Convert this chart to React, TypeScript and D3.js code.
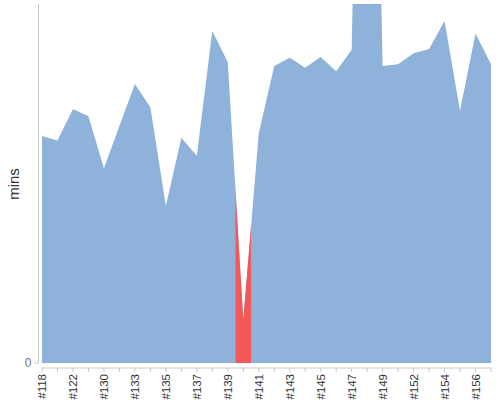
import * as d3 from "d3";

// build labels (odd ones are not labelled on the chart, guessed)
const builds = [
    "#118", "#120", "#122", "#126", "#130", "#131", "#133", "#134", "#135", "#136",
    "#137", "#138", "#139", "#140", "#141", "#142", "#143", "#144", "#145", "#146",
    "#147", "#148", "#149", "#150", "#152", "#153", "#154", "#155", "#156", "#157",
];

// duration in minutes
const durations = [
    25.3, 24.8, 28.3, 27.5, 21.7, 26.4, 31.1, 28.5, 17.5, 25.1,
    23.1, 37.0, 33.5, 4.8, 25.6, 33.1, 34.0, 32.9, 34.1, 32.5,
    34.9, 120, 33.1, 33.3, 34.5, 35.0, 38.1, 28.1, 36.7, 33.3,
];

// failed builds drawn in red
const failedBuilds = ["#140"];

const yTicks = [0];

const width = 500;
const height = 400;
const margin = {top: 4, right: 9, bottom: 37, left: 42};

const App = () => {
    const innerBottom = height - margin.bottom;
    const axisX = 38.5;

    const xScale = d3
        .scalePoint<string>()
        .domain(builds)
        .range([margin.left, width - margin.right]);

    const step = xScale.step();

    const yScale = d3
        .scaleLinear()
        .domain([0, 40])
        .range([innerBottom, margin.top]);

    const area = d3
        .area<number>()
        .x((_, i) => xScale(builds[i]) as number)
        .y0(yScale(0))
        .y1(d => yScale(d))
        .curve(d3.curveLinear);

    const path = area(durations) ?? "";

    return (
        <svg width={width} height={height}
             style={{position: "absolute", left: 0, top: 0, fontFamily: "'Liberation Sans', Arial, sans-serif"}}>
            <defs>
                <clipPath id="plot">
                    <rect x={axisX} y={margin.top} width={width - axisX} height={innerBottom - margin.top}/>
                </clipPath>
                {failedBuilds.map((b, i) => (
                    <clipPath id={`fail-${i}`} key={b}>
                        <rect x={(xScale(b) as number) - step / 2} y={margin.top}
                              width={step} height={innerBottom - margin.top}/>
                    </clipPath>
                ))}
            </defs>

            <g clipPath="url(#plot)">
                <path d={path} fill="#8FB2DA"/>
                {failedBuilds.map((b, i) => (
                    <path key={b} d={path} fill="#F45757" clipPath={`url(#fail-${i})`}/>
                ))}
            </g>

            {/* y axis */}
            <line x1={axisX} x2={axisX} y1={margin.top} y2={innerBottom} stroke="#C8C8C8"/>
            {yTicks.map(t => (
                <g key={t}>
                    <line x1={axisX - 4} x2={axisX} y1={yScale(t)} y2={yScale(t)} stroke="#C8C8C8"/>
                    <text x={axisX - 7} y={yScale(t)} dy="0.35em" textAnchor="end"
                          fontSize={12} fill="#777">{t}</text>
                </g>
            ))}
            <text transform={`translate(19,184) rotate(-90)`} textAnchor="middle"
                  fontSize={15} fill="#333">mins</text>

            {/* x axis */}
            <line x1={margin.left - 1} x2={width - margin.right + 1} y1={innerBottom + 5} y2={innerBottom + 5}
                  stroke="#C8C8C8"/>
            {builds.map((b, i) => {
                const x = xScale(b) as number;
                return (
                    <g key={b}>
                        <line x1={x} x2={x} y1={innerBottom + 5} y2={innerBottom + 9} stroke="#C8C8C8"/>
                        {i % 2 === 0 && (
                            <text transform={`translate(${x + 4},${innerBottom + 11}) rotate(-90)`}
                                  textAnchor="end" fontSize={11.5} fill="#333">{b}</text>
                        )}
                    </g>
                );
            })}
        </svg>
    );
};

export default App;
